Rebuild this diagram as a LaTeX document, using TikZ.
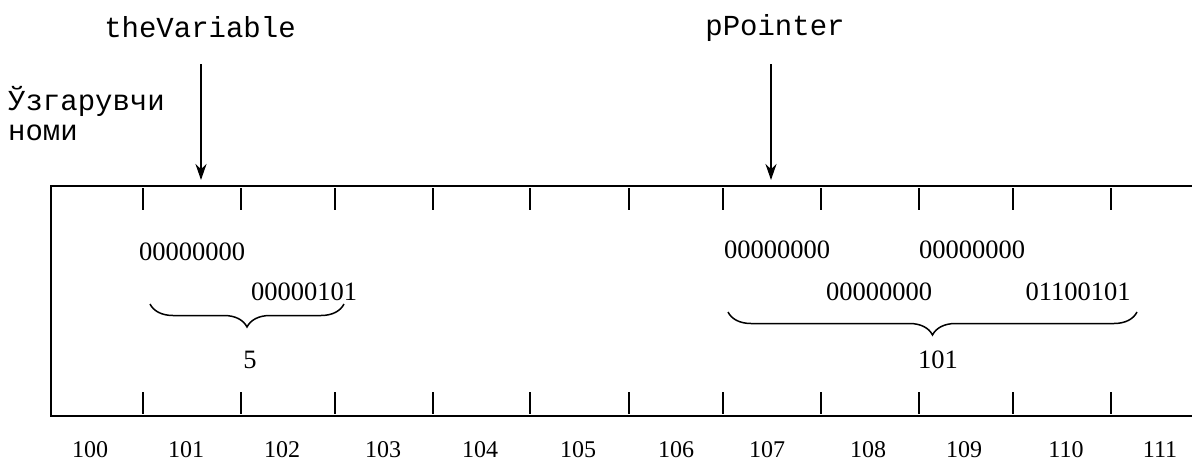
\documentclass[tikz,border=0pt]{standalone}
\usepackage{fontspec}
\setmainfont{Liberation Serif}
\setmonofont{Liberation Mono}
\usetikzlibrary{arrows.meta,decorations.pathreplacing}
\tikzset{
    tick/.style={line width=1.6pt},
    cell/.style={line width=2pt},
    varname/.style={font=\fontsize{29}{32}\selectfont\ttfamily, inner sep=0pt},
    bits/.style={font=\fontsize{26.5}{30}\selectfont, inner sep=0pt},
    addr/.style={font=\fontsize{24}{27}\selectfont, inner sep=0pt, anchor=base},
    ptr/.style={line width=2.4pt, -{Stealth[length=16pt,width=11pt]}},
    brc/.style={decorate, decoration={brace, mirror, amplitude=23pt}, line width=1.5pt}
}
\begin{document}
\begin{tikzpicture}[x=1pt,y=-1pt]
            \useasboundingbox (0,0) rectangle (1192,463);
            % memory strip
            \draw[cell] (1192,186) -- (51,186) -- (51,416) -- (1192,416);
            \foreach \x in {143,241,335,433,530,629,723,821,919,1013,1111} {
                    \draw[tick] (\x,188) -- (\x,210);
                    \draw[tick] (\x,392) -- (\x,414);
                }
            % addresses
            \foreach \x/\a in {90/100,186/101,282/102,383/103,480/104,578/105,676/106,767/107,868/108,964/109,1066/110,1160/111} {
                    \node[addr] (a\a) at (\x,457) {\a};
                }
            % variable names
            \node[varname] (var) at (200,27) {theVariable};
            \node[varname] (ptr) at (775,28) {pPointer};
            \node[varname, anchor=base west] (title1) at (8,110) {Ўзгарувчи};
            \node[varname, anchor=base west] (title2) at (8,140) {номи};
            \coordinate (vartip) at (201,180);
            \coordinate (ptrtip) at (771,180);
            \draw[ptr] (vartip |- 0,64) -- (vartip);
            \draw[ptr] (ptrtip |- 0,64) -- (ptrtip);
            % bytes of theVariable
            \node[bits] (v1) at (192,252) {00000000};
            \node[bits] (v2) at (304,292) {00000101};
            \coordinate (vl) at (150,304);
            \coordinate (vr) at (344,304);
            \draw[brc] (vl) -- (vr);
            \node[bits] (vval) at (250,360) {5};
            % bytes of pPointer
            \node[bits] (p1) at (777,250) {00000000};
            \node[bits] (p3) at (972,250) {00000000};
            \node[bits] (p2) at (879,292) {00000000};
            \node[bits] (p4) at (1078,292) {01100101};
            \coordinate (pl) at (728,312);
            \coordinate (pr) at (1137,312);
            \draw[brc] (pl) -- (pr);
            \node[bits] (pval) at (938,360) {101};
        \end{tikzpicture}
\end{document}
